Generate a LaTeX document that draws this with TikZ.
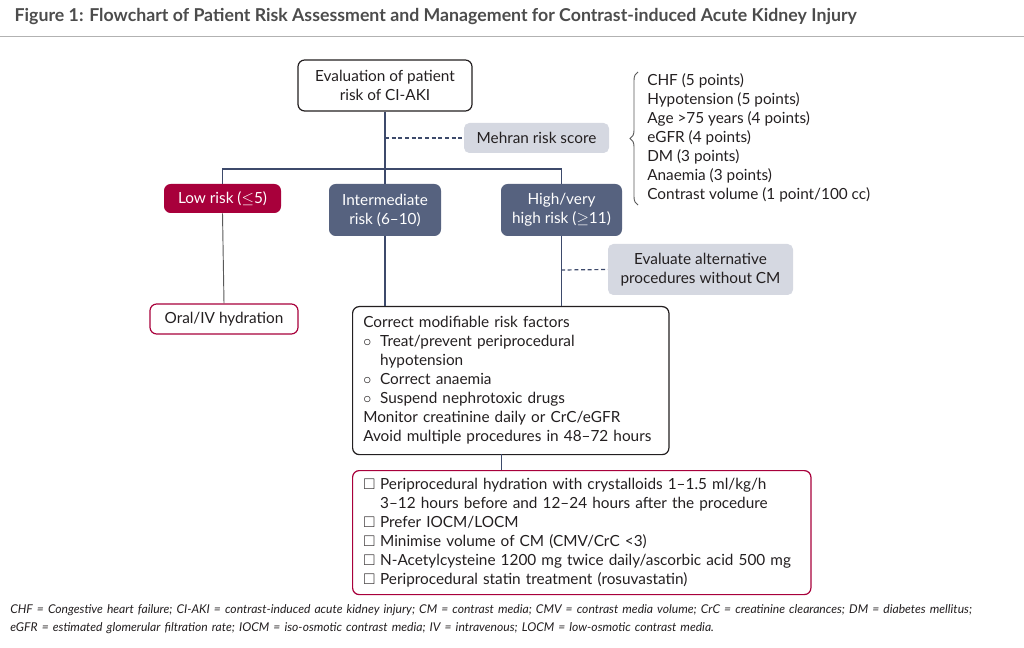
\documentclass[tikz,border=0pt]{standalone}
\usepackage{fontspec}
\usepackage{amssymb}
\setmainfont{Lato}
\usetikzlibrary{decorations.pathreplacing}
\definecolor{navy}{HTML}{56627F}
\definecolor{lnav}{HTML}{3D4A6B}
\definecolor{crim}{HTML}{A8003B}
\definecolor{gfill}{HTML}{D5D8E1}
\definecolor{txt}{HTML}{231F20}
\newcommand{\ob}{\makebox[1.1em][l]{\raisebox{0.1ex}{$\circ$}}}
\newcommand{\sqb}{\makebox[1.1em][l]{$\square$}}
\begin{document}
\begin{tikzpicture}[x=0.75pt,y=-0.75pt,
  every node/.style={text=txt,font=\fontsize{11.5}{14.25}\selectfont},
  wbox/.style={draw=txt,line width=0.9pt,rounded corners=5pt,fill=white},
  rbox/.style={draw=crim,line width=0.9pt,rounded corners=5pt,fill=white},
  gbox/.style={fill=gfill,rounded corners=4pt},
  dbox/.style={fill=navy,rounded corners=5pt,text=white},
  cbox/.style={fill=crim,rounded corners=5pt,text=white},
  ln/.style={draw=lnav,line width=1pt},
  dl/.style={draw=lnav,line width=0.9pt,dashed,dash pattern=on 3pt off 2pt}]
\useasboundingbox (0,0) rectangle (1024,648);
\node[anchor=west,text=gray!60!black,font=\fontsize{13.3}{15}\selectfont\bfseries] (title) at (10,17) {Figure 1: Flowchart of Patient Risk Assessment and Management for Contrast-induced Acute Kidney Injury};
\draw[gray!60,line width=0.6pt] (0,36) -- (1024,36);
% boxes
\node[wbox,minimum width=174*0.75pt,minimum height=51*0.75pt,align=center] (eval) at (385,85.5) {Evaluation of patient\\risk of CI-AKI};
\node[gbox,minimum width=145*0.75pt,minimum height=30*0.75pt] (mehran) at (536.5,138) {Mehran risk score};
\node[cbox,minimum width=117*0.75pt,minimum height=29*0.75pt] (low) at (222.5,198.5) {Low risk ($\leq$5)};
\node[dbox,minimum width=112*0.75pt,minimum height=52*0.75pt,align=center] (mid) at (385,210) {Intermediate\\risk (6--10)};
\node[dbox,minimum width=121*0.75pt,minimum height=52*0.75pt,align=center] (high) at (561.5,210) {High/very\\high risk ($\geq$11)};
\node[gbox,minimum width=185*0.75pt,minimum height=51*0.75pt,align=center] (alt) at (700.5,269.5) {Evaluate alternative\\procedures without CM};
\node[rbox,minimum width=148*0.75pt,minimum height=30*0.75pt] (oral) at (224,319) {Oral/IV hydration};
\node[wbox,anchor=north west,minimum width=311*0.75pt,minimum height=148*0.75pt,align=left,inner sep=0pt,text width=295*0.75pt,inner xsep=8pt,inner ysep=5pt] (corr) at (352,306) {Correct modifiable risk factors\\
\ob Treat/prevent periprocedural\\
\hspace*{1.1em}hypotension\\
\ob Correct anaemia\\
\ob Suspend nephrotoxic drugs\\
Monitor creatinine daily or CrC/eGFR\\
Avoid multiple procedures in 48--72 hours};
\node[rbox,anchor=north west,minimum width=451*0.75pt,minimum height=124*0.75pt,align=left,text width=437*0.75pt,inner xsep=8pt,inner ysep=5pt] (prev) at (352,470) {\sqb Periprocedural hydration with crystalloids 1--1.5 ml/kg/h\\
\hspace*{1.1em}3--12 hours before and 12--24 hours after the procedure\\
\sqb Prefer IOCM/LOCM\\
\sqb Minimise volume of CM (CMV/CrC <3)\\
\sqb N-Acetylcysteine 1200 mg twice daily/ascorbic acid 500 mg\\
\sqb Periprocedural statin treatment (rosuvastatin)};
\node[anchor=west,align=left,inner sep=0pt] (list) at (647,138) {CHF (5 points)\\Hypotension (5 points)\\Age >75 years (4 points)\\eGFR (4 points)\\DM (3 points)\\Anaemia (3 points)\\Contrast volume (1 point/100 cc)};
% brace
\draw[gray!70!black,line width=0.7pt,decorate,decoration={brace,amplitude=6pt,mirror}] (638,72) -- (638,205);
% connectors
\coordinate (bar) at (385,169);
\coordinate (m1) at (385,138);
\coordinate (h1) at (561,270);
\draw[ln] (eval) -- (mid);
\draw[ln] (low.north) |- (bar) -| (high.north);
\draw[dl] (m1) -- (mehran.west);
\draw[draw=gray!70!black,line width=0.7pt] (low.south) -- (oral.north);
\draw[ln] (mid.south) -- (mid.south |- corr.north);
\draw[ln] (high.south) -- (high.south |- corr.north);
\draw[dl] (h1) -- (alt.west);
\draw[ln,line width=0.7pt] (501,454) -- (501,470);
% footnote
\node[anchor=north west,align=left,inner sep=0pt,font=\fontsize{9.1}{13.5}\itshape\selectfont,text width=1010*0.75pt] (foot) at (10,604) {CHF = Congestive heart failure; CI-AKI = contrast-induced acute kidney injury; CM = contrast media; CMV = contrast media volume; CrC = creatinine clearances; DM = diabetes mellitus;\\eGFR = estimated glomerular filtration rate; IOCM = iso-osmotic contrast media; IV = intravenous; LOCM = low-osmotic contrast media.};
\end{tikzpicture}
\end{document}
